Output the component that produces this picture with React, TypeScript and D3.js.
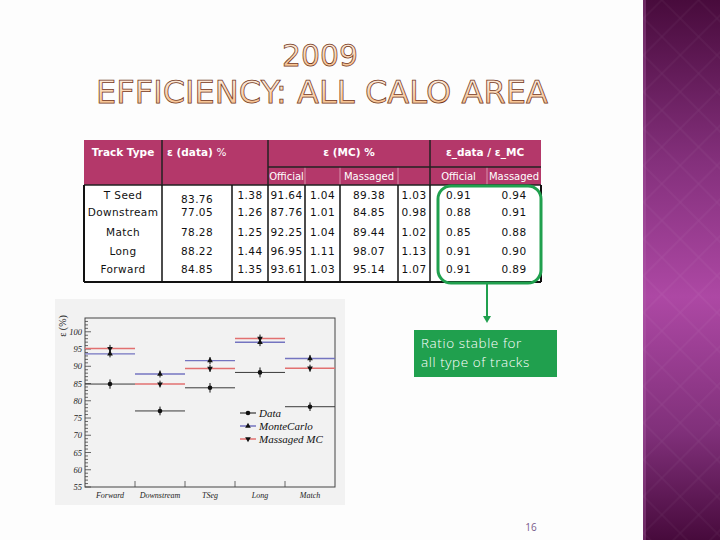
import React from "react";
import * as d3 from "d3";

// table values
const trackTypes = ["T Seed", "Downstream", "Match", "Long", "Forward"];
const effData = ["83.76", "77.05", "78.28", "88.22", "84.85"];
const errData = ["1.38", "1.26", "1.25", "1.44", "1.35"];
const effMcOfficial = ["91.64", "87.76", "92.25", "96.95", "93.61"];
const errMcOfficial = ["1.04", "1.01", "1.04", "1.11", "1.03"];
const effMcMassaged = ["89.38", "84.85", "89.44", "98.07", "95.14"];
const errMcMassaged = ["1.03", "0.98", "1.02", "1.13", "1.07"];
const ratioOfficial = ["0.91", "0.88", "0.85", "0.91", "0.91"];
const ratioMassaged = ["0.94", "0.91", "0.88", "0.90", "0.89"];

// plot values
const plotCats = ["Forward", "Downstream", "TSeg", "Long", "Match"];
const plotData = [84.85, 77.05, 83.76, 88.22, 78.28];
const plotDataErr = [1.35, 1.26, 1.38, 1.44, 1.25];
const plotMc = [93.61, 87.76, 91.64, 96.95, 92.25];
const plotMcErr = [1.03, 1.01, 1.04, 1.11, 1.04];
const plotMsg = [95.14, 84.85, 89.38, 98.07, 89.44];
const plotMsgErr = [1.07, 0.98, 1.03, 1.13, 1.02];
const yTicks = [55, 60, 65, 70, 75, 80, 85, 90, 95, 100];

const legendItems = ["Data", "MonteCarlo", "Massaged MC"];

const HEAD = "#b4386a";
const GREEN = "#20a04e";
const tableFont = "'DejaVu Sans', Verdana, sans-serif";
const rootFont = "'Liberation Serif', 'DejaVu Serif', serif";

// table column edges
const colX = [84, 162, 232, 268, 305, 340, 398, 430, 487, 541];
const rowY = [195, 212, 232, 251, 269];

function Table() {
  const cols = [trackTypes, effData, errData, effMcOfficial, errMcOfficial, effMcMassaged, errMcMassaged, ratioOfficial, ratioMassaged];
  const mid = (i: number) => (colX[i] + colX[i + 1]) / 2;
  return (
    <g fontFamily={tableFont} fontSize={10.5}>
      <rect x={84} y={140} width={457} height={45} fill={HEAD} />
      <rect x={84} y={185} width={457} height={97} fill="#fff" />
      {[305, 340, 398, 487].map((x) => (
        <line key={x} x1={x} x2={x} y1={167} y2={185} stroke="#d890ab" strokeWidth={1} />
      ))}
      <line x1={268} x2={541} y1={167} y2={167} stroke="#222" strokeWidth={1.5} />
      {[162, 268, 430].map((x) => (
        <line key={x} x1={x} x2={x} y1={140} y2={185} stroke="#222" strokeWidth={1.5} />
      ))}
      <line x1={84} x2={541} y1={185} y2={185} stroke="#222" strokeWidth={1.5} />
      {[84, 162, 232, 268, 305, 340, 398, 430, 541].map((x) => (
        <line key={"b" + x} x1={x} x2={x} y1={185} y2={282} stroke="#111" strokeWidth={x === 84 || x === 541 ? 2 : 1.5} />
      ))}
      <line x1={84} x2={541} y1={282} y2={282} stroke="#111" strokeWidth={2} />
      <g fill="#fff" fontWeight="bold">
        <text x={123} y={156} textAnchor="middle">Track Type</text>
        <text x={167} y={156}>ε (data)  <tspan fontWeight="normal">%</tspan></text>
        <text x={349} y={156} textAnchor="middle">ε (MC) %</text>
        <text x={485} y={156} textAnchor="middle">ε_data / ε_MC</text>
      </g>
      <g fill="#fff" fontSize={10}>
        <text x={mid(3)} y={180} textAnchor="middle">Official</text>
        <text x={mid(5)} y={180} textAnchor="middle">Massaged</text>
        <text x={mid(7)} y={180} textAnchor="middle">Official</text>
        <text x={mid(8)} y={180} textAnchor="middle">Massaged</text>
      </g>
      {cols.map((col, ci) =>
        col.map((v, ri) => (
          <text
            key={ci + "-" + ri}
            x={mid(ci)}
            y={rowY[ri] + 4 + (ci === 1 && ri === 0 ? 4 : 0)}
            textAnchor="middle"
            fill="#111"
            letterSpacing={0.4}
          >
            {v}
          </text>
        ))
      )}
    </g>
  );
}

function Plot() {
  const x = d3.scaleBand().domain(plotCats).range([85, 335]);
  const y = d3.scaleLinear().domain([55, 104]).range([487, 318]);
  const minor = d3.range(55, 104, 1);
  const bw = x.bandwidth();
  const series = [
    { vals: plotData, errs: plotDataErr, line: "#3a3a3a", w: 1, mk: "circle" },
    { vals: plotMc, errs: plotMcErr, line: "#7474c0", w: 1.4, mk: "up" },
    { vals: plotMsg, errs: plotMsgErr, line: "#e27070", w: 1.5, mk: "down" },
  ];
  const marker = (mk: string, cx: number, cy: number, k: string) =>
    mk === "circle" ? (
      <circle key={k} cx={cx} cy={cy} r={2.3} fill="#111" />
    ) : (
      <path
        key={k}
        d={d3.symbol(d3.symbolTriangle, 14)() || ""}
        transform={`translate(${cx},${cy}) rotate(${mk === "down" ? 180 : 0})`}
        fill="#111"
      />
    );
  return (
    <g>
      <rect x={55} y={299} width={290} height={206} fill="#f2f2f2" />
      <rect x={85} y={318} width={250} height={169} fill="none" stroke="#444" strokeWidth={1} />
      {minor.map((t) => (
        <line key={"m" + t} x1={85} x2={t % 5 === 0 ? 91 : 88} y1={y(t)} y2={y(t)} stroke="#444" strokeWidth={0.8} />
      ))}
      {yTicks.map((t) => (
        <text key={t} x={82} y={y(t) + 3} textAnchor="end" fontFamily={rootFont} fontStyle="italic" fontSize={8.5} fill="#222">
          {t}
        </text>
      ))}
      {plotCats.slice(1).map((c) => (
        <line key={c} x1={x(c)!} x2={x(c)!} y1={487} y2={481} stroke="#444" strokeWidth={0.8} />
      ))}
      {plotCats.map((c) => (
        <text key={"l" + c} x={x(c)! + bw / 2} y={498} textAnchor="middle" fontFamily={rootFont} fontStyle="italic" fontSize={8} fill="#222">
          {c}
        </text>
      ))}
      <text transform="translate(66,326) rotate(-90)" textAnchor="middle" fontFamily={rootFont} fontSize={10} fill="#222">
        ε (%)
      </text>
      {series.map((s, si) =>
        plotCats.map((c, i) => (
          <line key={si + c} x1={x(c)!} x2={x(c)! + bw} y1={y(s.vals[i])} y2={y(s.vals[i])} stroke={s.line} strokeWidth={s.w} />
        ))
      )}
      {series.map((s, si) =>
        plotCats.map((c, i) => {
          const cx = x(c)! + bw / 2;
          return (
            <g key={"e" + si + c}>
              <line x1={cx} x2={cx} y1={y(s.vals[i] - s.errs[i])} y2={y(s.vals[i] + s.errs[i])} stroke="#111" strokeWidth={1} />
              {marker(s.mk, cx, y(s.vals[i]), "k")}
            </g>
          );
        })
      )}
      {legendItems.map((l, i) => {
        const ly = 413 + i * 13;
        const s = series[i];
        return (
          <g key={l}>
            <line x1={240} x2={256} y1={ly} y2={ly} stroke={i === 0 ? "#111" : s.line} strokeWidth={i === 0 ? 1 : 1.5} />
            {marker(s.mk, 248, ly, "lg")}
            <text x={259} y={ly + 4} fontFamily={rootFont} fontStyle="italic" fontSize={11} fill="#111">
              {l}
            </text>
          </g>
        );
      })}
    </g>
  );
}

export default function App() {
  return (
    <svg width={720} height={540} style={{ position: "absolute", left: 0, top: 0 }}>
      <defs>
        <linearGradient id="band" x1="0" y1="0" x2="0" y2="1">
          <stop offset="0" stopColor="#480b3c" />
          <stop offset="0.3" stopColor="#84307c" />
          <stop offset="0.55" stopColor="#ad48a4" />
          <stop offset="0.8" stopColor="#80307a" />
          <stop offset="1" stopColor="#470a3c" />
        </linearGradient>
        <linearGradient id="title" x1="0" y1="0" x2="0" y2="1">
          <stop offset="0" stopColor="#fff7f0" />
          <stop offset="1" stopColor="#f6b67a" />
        </linearGradient>
        <pattern id="diam" width="26" height="26" patternUnits="userSpaceOnUse" patternTransform="rotate(45)">
          <rect width="26" height="26" fill="none" stroke="#ffffff" strokeOpacity={0.06} strokeWidth={1} />
        </pattern>
      </defs>
      <rect width={720} height={540} fill="#fdfdfd" />
      <rect x={643} y={0} width={77} height={540} fill="url(#band)" />
      <rect x={643} y={0} width={77} height={540} fill="url(#diam)" />
      <rect x={643} y={0} width={3} height={540} fill="#b060a8" opacity={0.35} />
      <g fontFamily="'DejaVu Sans', sans-serif" fill="url(#title)" stroke="#74381c" strokeWidth={0.75} textAnchor="middle">
        <text x={320} y={66} fontSize={31} textLength={76} lengthAdjust="spacingAndGlyphs">2009</text>
        <text x={322} y={103} fontSize={32} textLength={452} lengthAdjust="spacingAndGlyphs">EFFICIENCY: ALL CALO AREA</text>
      </g>
      <Table />
      <rect x={438} y={186} width={103} height={97} rx={13} fill="none" stroke={GREEN} strokeWidth={3} />
      <line x1={487} x2={487} y1={284} y2={318} stroke={GREEN} strokeWidth={2} />
      <path d="M483,316 L491,316 L487,323 Z" fill={GREEN} />
      <rect x={414} y={330} width={143} height={47} fill={GREEN} />
      <g fill="#fff" fontFamily="'Open Sans', 'DejaVu Sans', sans-serif" fontSize={13.5} fontWeight={300} letterSpacing={0.6}>
        <text x={421} y={348}>Ratio stable for</text>
        <text x={421} y={367}>all type of tracks</text>
      </g>
      <Plot />
      <text x={531} y={531} textAnchor="middle" fontFamily="'Open Sans', sans-serif" fontSize={10} fill="#7a5a8a">16</text>
    </svg>
  );
}
